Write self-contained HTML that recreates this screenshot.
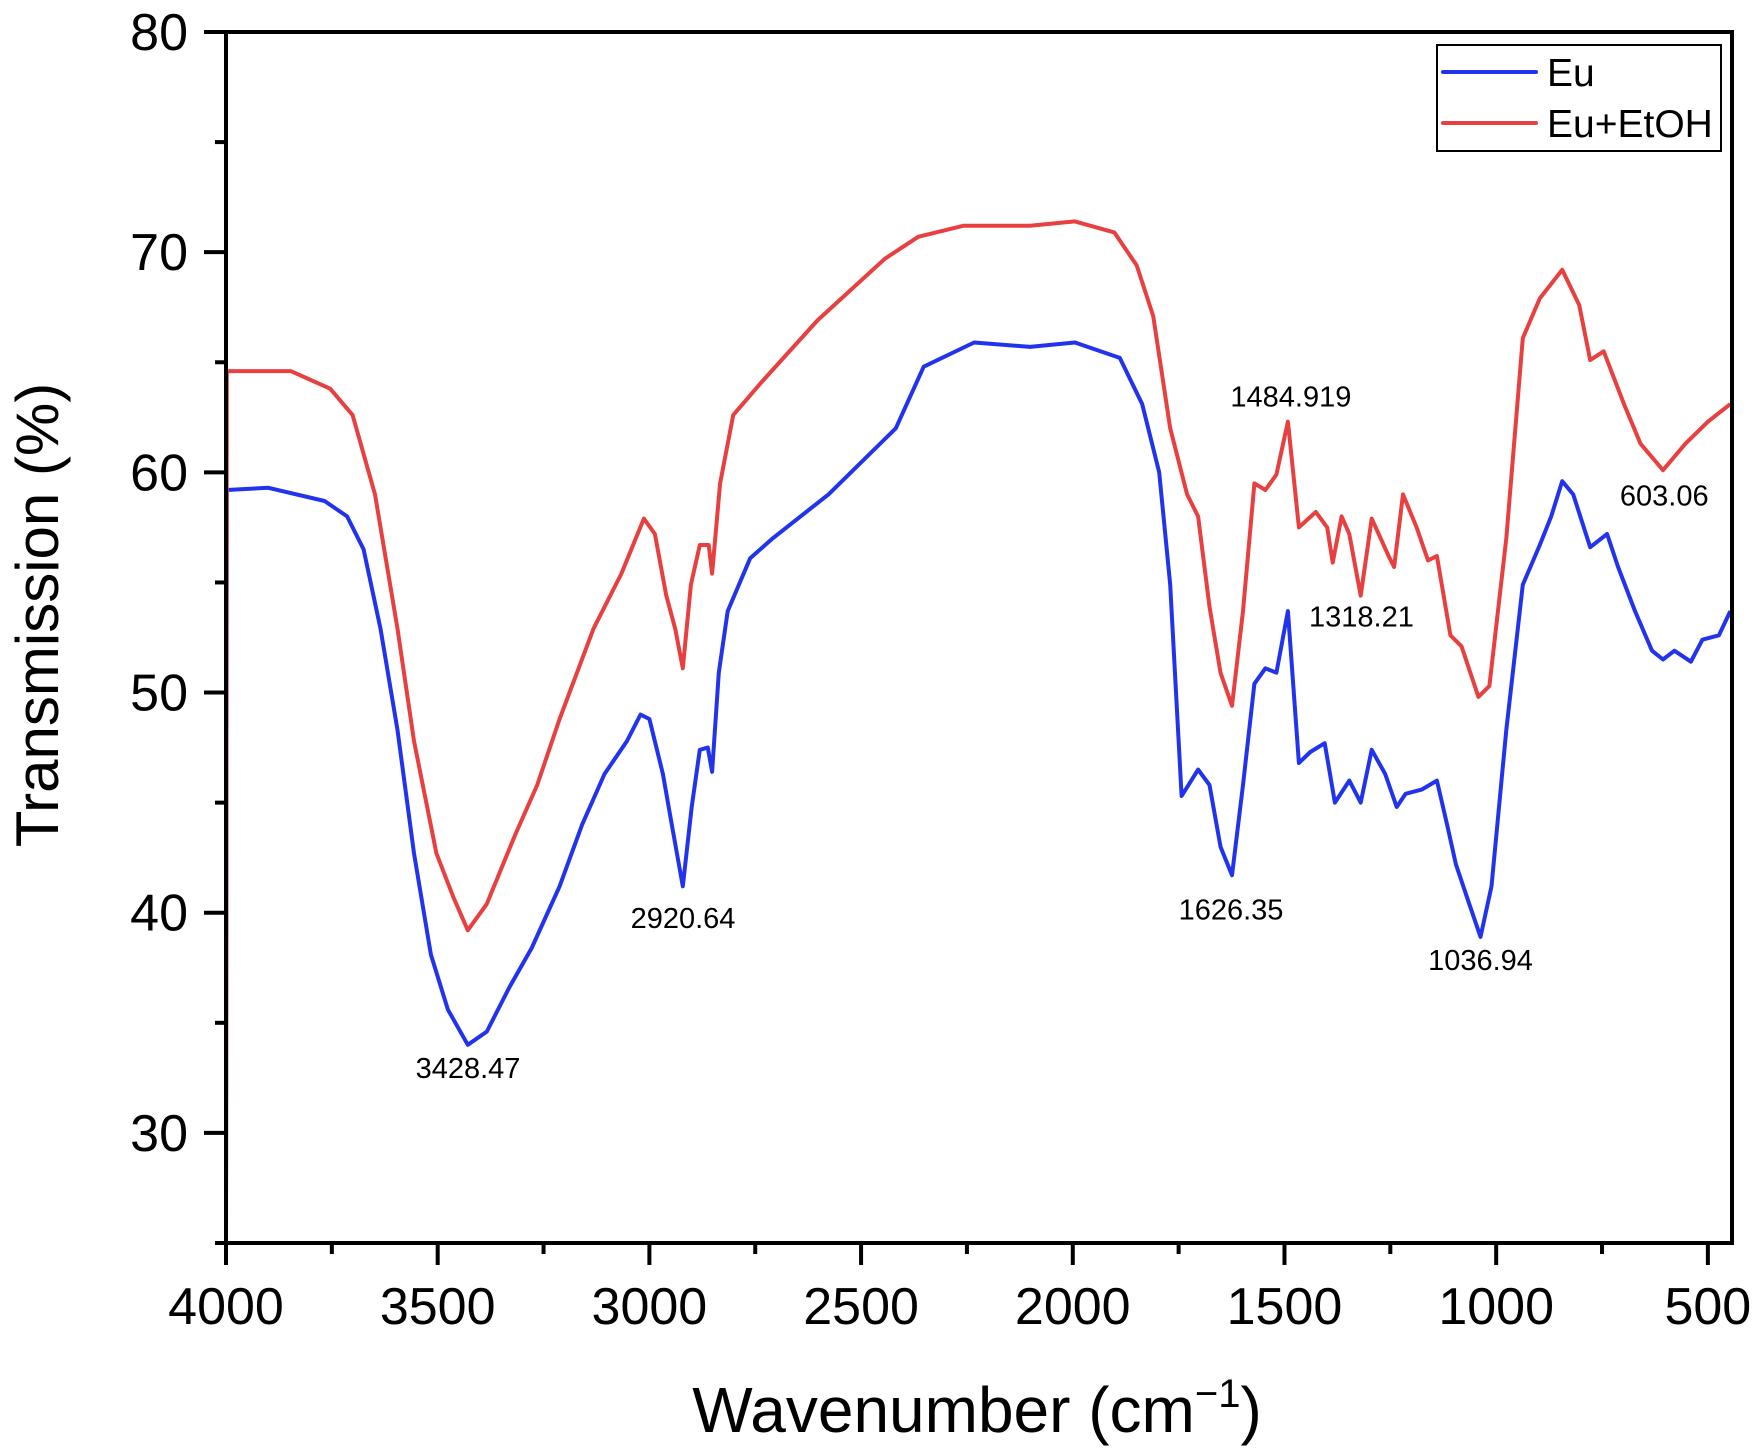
<!DOCTYPE html>
<html><head><meta charset="utf-8"><style>
html,body{margin:0;padding:0;background:#fff;}
svg{display:block;font-family:"Liberation Sans",Arial,sans-serif;}
</style></head><body>
<svg id="chart" width="1757" height="1450" viewBox="0 0 1757 1450" xmlns="http://www.w3.org/2000/svg"></svg>
<script>
const euWn=[4000,3998,3900,3767,3714,3675,3635,3595,3556,3516,3476,3429,3384,3331,3278,3212,3159,3106,3053,3021,3000,2968,2947,2921,2900,2881,2862,2852,2836,2815,2762,2709,2577,2418,2352,2233,2101,1995,1889,1836,1796,1770,1743,1704,1677,1651,1624,1598,1571,1545,1519,1492,1466,1439,1405,1381,1347,1320,1294,1262,1235,1214,1175,1140,1116,1095,1069,1037,1011,976,937,897,870,844,818,778,738,712,672,632,606,579,540,513,474,447];
const euT=[25,59.2,59.3,58.7,58.0,56.5,52.9,48.3,42.7,38.1,35.6,34.0,34.6,36.6,38.4,41.2,44.0,46.3,47.8,49.0,48.8,46.3,44.0,41.2,44.8,47.4,47.5,46.4,50.9,53.7,56.1,57.0,59.0,62.0,64.8,65.9,65.7,65.9,65.2,63.1,60.0,54.9,45.3,46.5,45.8,43.0,41.7,45.8,50.4,51.1,50.9,53.7,46.8,47.3,47.7,45.0,46.0,45.0,47.4,46.3,44.8,45.4,45.6,46.0,44.0,42.2,40.7,38.9,41.2,48.3,54.9,56.7,58.0,59.6,59.0,56.6,57.2,55.7,53.7,51.9,51.5,51.9,51.4,52.4,52.6,53.7];
const etWn=[4000,3998,3847,3754,3701,3648,3595,3556,3503,3463,3429,3384,3318,3265,3212,3132,3066,3013,2987,2960,2939,2921,2902,2881,2860,2852,2833,2802,2735,2603,2444,2365,2259,2101,1995,1902,1849,1810,1770,1730,1704,1677,1651,1624,1598,1571,1545,1519,1492,1466,1426,1399,1386,1365,1347,1320,1294,1254,1241,1220,1188,1161,1140,1108,1082,1042,1016,976,937,897,844,804,778,746,698,659,606,553,500,447];
const etT=[25,64.6,64.6,63.8,62.6,59.0,52.9,47.8,42.7,40.7,39.2,40.4,43.5,45.8,48.8,52.9,55.4,57.9,57.2,54.4,52.9,51.1,54.9,56.7,56.7,55.4,59.5,62.6,64.1,66.9,69.7,70.7,71.2,71.2,71.4,70.9,69.4,67.1,62.0,59.0,58.0,53.9,50.9,49.4,53.7,59.5,59.2,59.9,62.3,57.5,58.2,57.5,55.9,58.0,57.2,54.4,57.9,56.2,55.7,59.0,57.5,56.0,56.2,52.6,52.1,49.8,50.3,57.0,66.1,67.9,69.2,67.6,65.1,65.5,63.1,61.3,60.1,61.3,62.3,63.1];
const xTicks=[4000,3500,3000,2500,2000,1500,1000,500];
const yTicks=[30,40,50,60,70,80];
const peakWn=[3428.47,2920.64,1626.35,1036.94,1484.919,1318.21,603.06];
const peakLbl=["3428.47","2920.64","1626.35","1036.94","1484.919","1318.21","603.06"];
const peakT=[32.5,39.3,39.7,37.4,63.0,53.0,58.5];

const L=226,R=1732,T=32,B=1243,XMAX=4000,XMIN=443,YMIN=25,YMAX=80;
const X=w=>L+(XMAX-w)/(XMAX-XMIN)*(R-L);
const Y=v=>B-(v-YMIN)/(YMAX-YMIN)*(B-T);
const svg=document.getElementById('chart');const NS='http://www.w3.org/2000/svg';
function mk(t,a,p){const e=document.createElementNS(NS,t);for(const k in a)e.setAttribute(k,a[k]);(p||svg).appendChild(e);return e;}
function path(w,t,c,name){let d='';for(let i=0;i<w.length;i++)d+=(i?'L':'M')+X(w[i]).toFixed(1)+','+Y(t[i]).toFixed(1);
const p=mk('path',{d:d,fill:'none',stroke:c,'stroke-width':4,'stroke-linejoin':'round'});

}
path(euWn,euT,'#2233ee','series-eu');
path(etWn,etT,'#e84040','series-eu-etoh');
const fr=mk('rect',{x:L,y:T,width:R-L,height:B-T,fill:'none',stroke:'#000','stroke-width':4});


for(let w=4000;w>=500;w-=250){const maj=w%500===0;mk('line',{x1:X(w),x2:X(w),y1:B,y2:B+(maj?22:11),stroke:'#000','stroke-width':4});}
xTicks.forEach(w=>{const t=mk('text',{x:X(w),y:1324,'font-size':52,'text-anchor':'middle'});t.textContent=w;

});
for(let v=25;v<=80;v+=5){const maj=v%10===0;mk('line',{x1:L,x2:L-(maj?22:11),y1:Y(v),y2:Y(v),stroke:'#000','stroke-width':4});}
yTicks.forEach(v=>{const t=mk('text',{x:188,y:Y(v)+18,'font-size':52,'text-anchor':'end'});t.textContent=v;

});
peakWn.forEach((w,i)=>{const t=mk('text',{x:X(w),y:Y(peakT[i]),'font-size':29,'text-anchor':'middle'});t.textContent=peakLbl[i];

});
</script>
<svg style="position:absolute;left:0;top:0" width="1757" height="1450" xmlns="http://www.w3.org/2000/svg" font-family="Liberation Sans, Arial, sans-serif">
<text transform="translate(58,615) rotate(-90)" text-anchor="middle" font-size="60">Transmission (%)</text>
<text x="977" y="1432" text-anchor="middle" font-size="64">Wavenumber (cm<tspan dy="-25" font-size="40">−1</tspan><tspan dy="25">)</tspan></text>
<g>
<rect x="1437" y="45" width="284" height="106" fill="#fff" stroke="#000" stroke-width="2"/>
<line x1="1443" x2="1536" y1="72" y2="72" stroke="#2233ee" stroke-width="4" stroke-linecap="round"/>
<text x="1547" y="86" font-size="39">Eu</text>
<line x1="1443" x2="1536" y1="123" y2="123" stroke="#e84040" stroke-width="4" stroke-linecap="round"/>
<text x="1547" y="137" font-size="39">Eu+EtOH</text>
</g>
</svg>
</body></html>
